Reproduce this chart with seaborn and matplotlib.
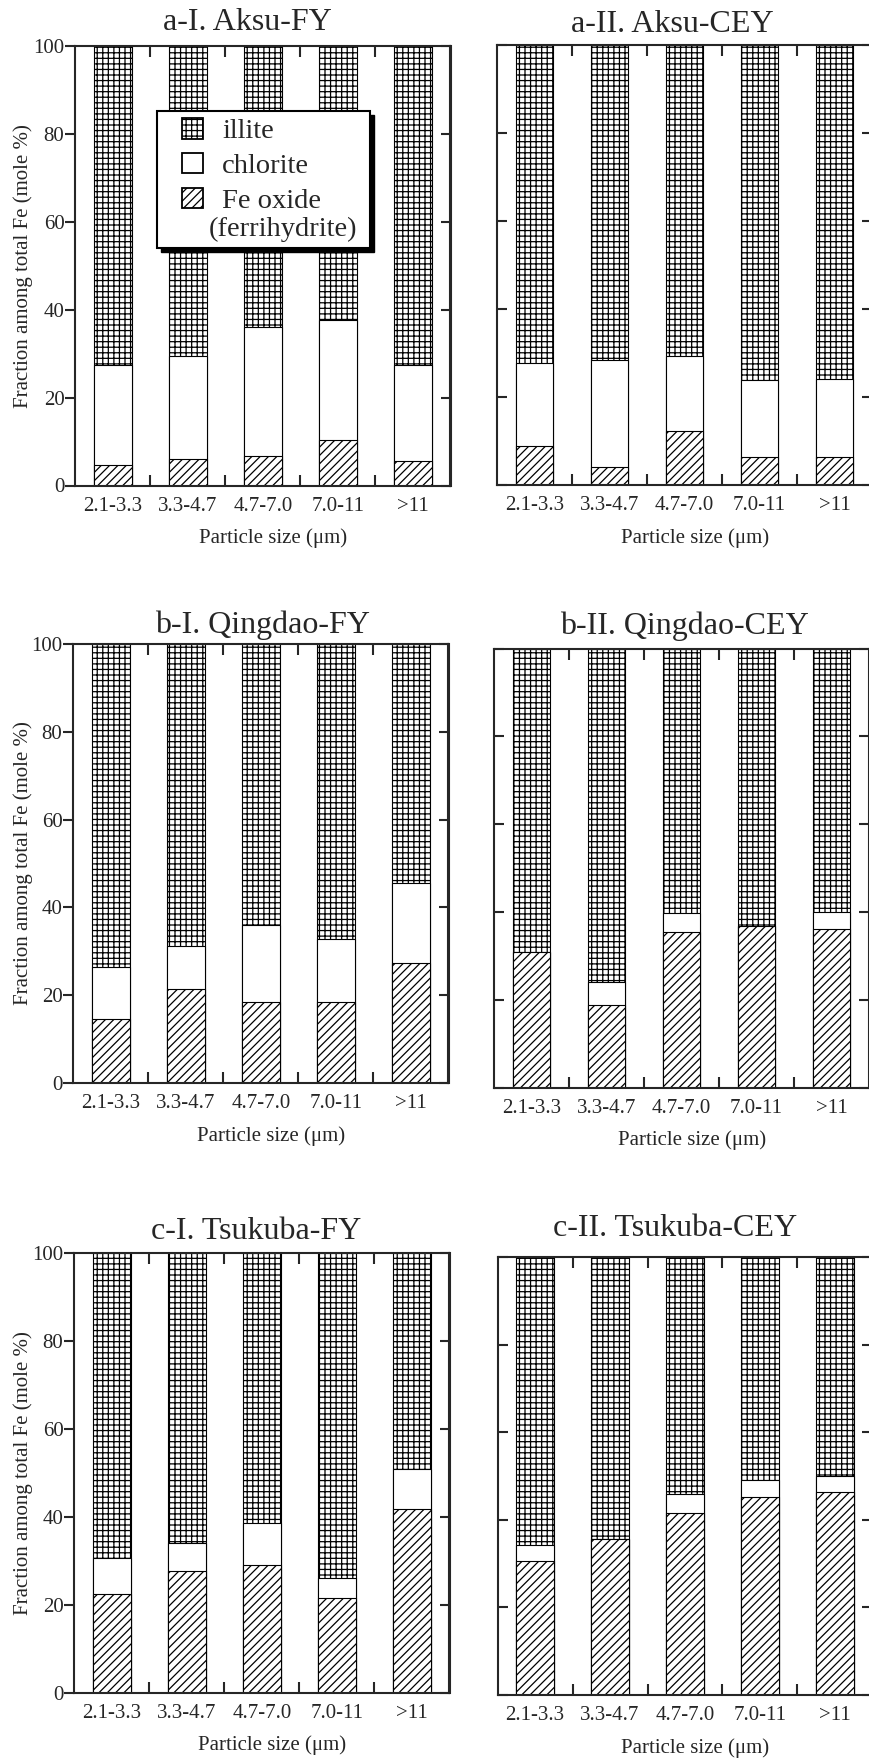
import numpy as np
import pandas as pd
import matplotlib
matplotlib.use("Agg")
import matplotlib.pyplot as plt
import seaborn as sns
from matplotlib.patches import Patch, Rectangle

# ---------------- data (mole % of total Fe) ----------------
sizes = ["2.1-3.3", "3.3-4.7", "4.7-7.0", "7.0-11", ">11"]

aksu_fy_fe = [4.6, 6.0, 6.8, 10.4, 5.6]
aksu_fy_chl = [22.9, 23.5, 29.3, 27.3, 21.9]
aksu_fy_ill = [72.5, 70.5, 63.9, 62.3, 72.5]

aksu_cey_fe = [8.8, 4.2, 12.2, 6.4, 6.4]
aksu_cey_chl = [18.9, 24.1, 17.2, 17.5, 17.8]
aksu_cey_ill = [72.3, 71.7, 70.6, 76.1, 75.8]

qingdao_fy_fe = [14.5, 21.4, 18.5, 18.5, 27.3]
qingdao_fy_chl = [12.0, 9.7, 17.5, 14.2, 18.2]
qingdao_fy_ill = [73.5, 68.9, 64.0, 67.3, 54.5]

qingdao_cey_fe = [30.8, 18.9, 35.4, 36.8, 36.2]
qingdao_cey_chl = [0.0, 5.2, 4.4, 0.0, 3.8]
qingdao_cey_ill = [69.2, 75.9, 60.2, 63.2, 60.0]

tsukuba_fy_fe = [22.3, 27.7, 29.0, 21.4, 41.8]
tsukuba_fy_chl = [8.4, 6.4, 9.5, 4.6, 9.0]
tsukuba_fy_ill = [69.3, 65.9, 61.5, 74.0, 49.2]

tsukuba_cey_fe = [30.6, 35.6, 41.6, 45.2, 46.3]
tsukuba_cey_chl = [3.7, 0.0, 4.2, 4.0, 3.7]
tsukuba_cey_ill = [65.7, 64.4, 54.2, 50.8, 50.0]

titles = ["a-I. Aksu-FY", "a-II. Aksu-CEY", "b-I. Qingdao-FY",
          "b-II. Qingdao-CEY", "c-I. Tsukuba-FY", "c-II. Tsukuba-CEY"]
legend_labels = ["illite", "chlorite", "Fe oxide", "(ferrihydrite)"]
yticks = [0, 20, 40, 60, 80, 100]

# ---------------- style ----------------
W, H = 870, 1762
sns.set_style("ticks")
plt.rcParams["font.family"] = ["Liberation Serif", "DejaVu Serif"]
plt.rcParams["hatch.linewidth"] = 0.9
plt.rcParams["axes.linewidth"] = 1.5

fig = plt.figure(figsize=(W / 100, H / 100), dpi=100)


def fx(px):
    return px / W


def fy(py):
    return 1 - py / H


# layout in pixels: left, top, bottom, title centre x, title baseline y, is_left
layout = [
    (75.5, 46, 485.5, 247, 30.5, True),
    (497, 45, 485, 672, 31.5, False),
    (73.5, 644, 1083, 263, 633, True),
    (494, 648.5, 1087.5, 684, 634, False),
    (74.5, 1253, 1692.5, 256, 1239, True),
    (497.5, 1257, 1695, 675, 1236, False),
]
data = [
    (aksu_fy_fe, aksu_fy_chl, aksu_fy_ill),
    (aksu_cey_fe, aksu_cey_chl, aksu_cey_ill),
    (qingdao_fy_fe, qingdao_fy_chl, qingdao_fy_ill),
    (qingdao_cey_fe, qingdao_cey_chl, qingdao_cey_ill),
    (tsukuba_fy_fe, tsukuba_fy_chl, tsukuba_fy_ill),
    (tsukuba_cey_fe, tsukuba_cey_chl, tsukuba_cey_ill),
]

bar_kw = dict(color="white", saturation=1, edgecolor="black", linewidth=0.8,
              width=0.5, errorbar=None)

for i, ((l, t, b, tcx, tby, is_left), (fe, chl, ill)) in enumerate(zip(layout, data)):
    ax = fig.add_axes([fx(l), fy(b), 375 / W, (b - t) / H])
    total = np.add(np.add(fe, chl), ill)
    fe_chl = np.add(fe, chl)
    sns.barplot(x=sizes, y=total, ax=ax, hatch="+++", **bar_kw)
    sns.barplot(x=sizes, y=fe_chl, ax=ax, **bar_kw)
    sns.barplot(x=sizes, y=fe, ax=ax, hatch="////", **bar_kw)

    ax.set_xlim(-0.5, 4.5)
    ax.set_ylim(0, 100)
    ax.set_ylabel("")
    ax.set_xticks(range(len(sizes)))
    ax.set_xticklabels(sizes)
    ax.set_xticks([0.5, 1.5, 2.5, 3.5], minor=True)
    ax.tick_params(axis="x", which="major", length=0, pad=8.0, labelsize=15)
    ax.tick_params(axis="x", which="minor", direction="in", length=8, width=1.5,
                   top=True, bottom=True)
    ax.set_yticks(yticks)
    ax.yaxis.set_minor_locator(matplotlib.ticker.NullLocator())
    for s in ax.spines.values():
        s.set_visible(True)
        s.set_linewidth(1.5)

    if is_left:
        ax.tick_params(axis="y", direction="out", length=7, width=1.5,
                       labelsize=15, pad=1, left=True, right=False)
        sec = ax.secondary_yaxis("right")
        sec.set_yticks(yticks)
        sec.set_yticklabels([])
        sec.tick_params(direction="in", length=7, width=1.5)
        sec.spines["right"].set_linewidth(1.5)
        fig.text(fx(23), fy((t + b) / 2), "Fraction among total Fe (mole %)",
                 rotation=90, ha="center", va="center", fontsize=15)
    else:
        ax.tick_params(axis="y", direction="in", length=7, width=1.5,
                       left=True, right=True, labelleft=False)

    ax.set_xlabel("Particle size (μm)", fontsize=15)
    ax.xaxis.set_label_coords(0.527, -43 / (b - t))

    fig.text(fx(tcx), fy(tby), titles[i], ha="center", va="baseline", fontsize=23)

    if i == 0:
        handles = [
            Patch(facecolor="white", edgecolor="black", hatch="+++", linewidth=1.3,
                  label=legend_labels[0]),
            Patch(facecolor="white", edgecolor="black", linewidth=1.3,
                  label=legend_labels[1]),
            Patch(facecolor="white", edgecolor="black", hatch="////", linewidth=1.3,
                  label=legend_labels[2]),
        ]
        bx0, by0, bx1, by1 = 157, 111, 370, 248
        shadow = Rectangle((fx(bx0 + 4), fy(by1 + 4)), fx(bx1) - fx(bx0), (by1 - by0) / H,
                           transform=fig.transFigure, facecolor="black",
                           edgecolor="black", zorder=4.4, clip_on=False)
        box = Rectangle((fx(bx0), fy(by1)), fx(bx1) - fx(bx0), (by1 - by0) / H,
                        transform=fig.transFigure, facecolor="white",
                        edgecolor="black", linewidth=1.5, zorder=4.5, clip_on=False)
        ax.add_artist(shadow)
        ax.add_artist(box)
        leg = ax.legend(handles=handles, loc="upper left",
                        bbox_to_anchor=(fx(182), fy(118)),
                        bbox_transform=fig.transFigure, frameon=False,
                        borderpad=0, borderaxespad=0, fontsize=20.5,
                        handlelength=0.74, handleheight=0.74, handletextpad=0.67,
                        labelspacing=0.3)
        leg.set_zorder(6)
        fig.text(fx(209), fy(229), legend_labels[3], fontsize=20.5,
                 ha="left", va="center", zorder=7)

fig.savefig("out.png", dpi=100)
